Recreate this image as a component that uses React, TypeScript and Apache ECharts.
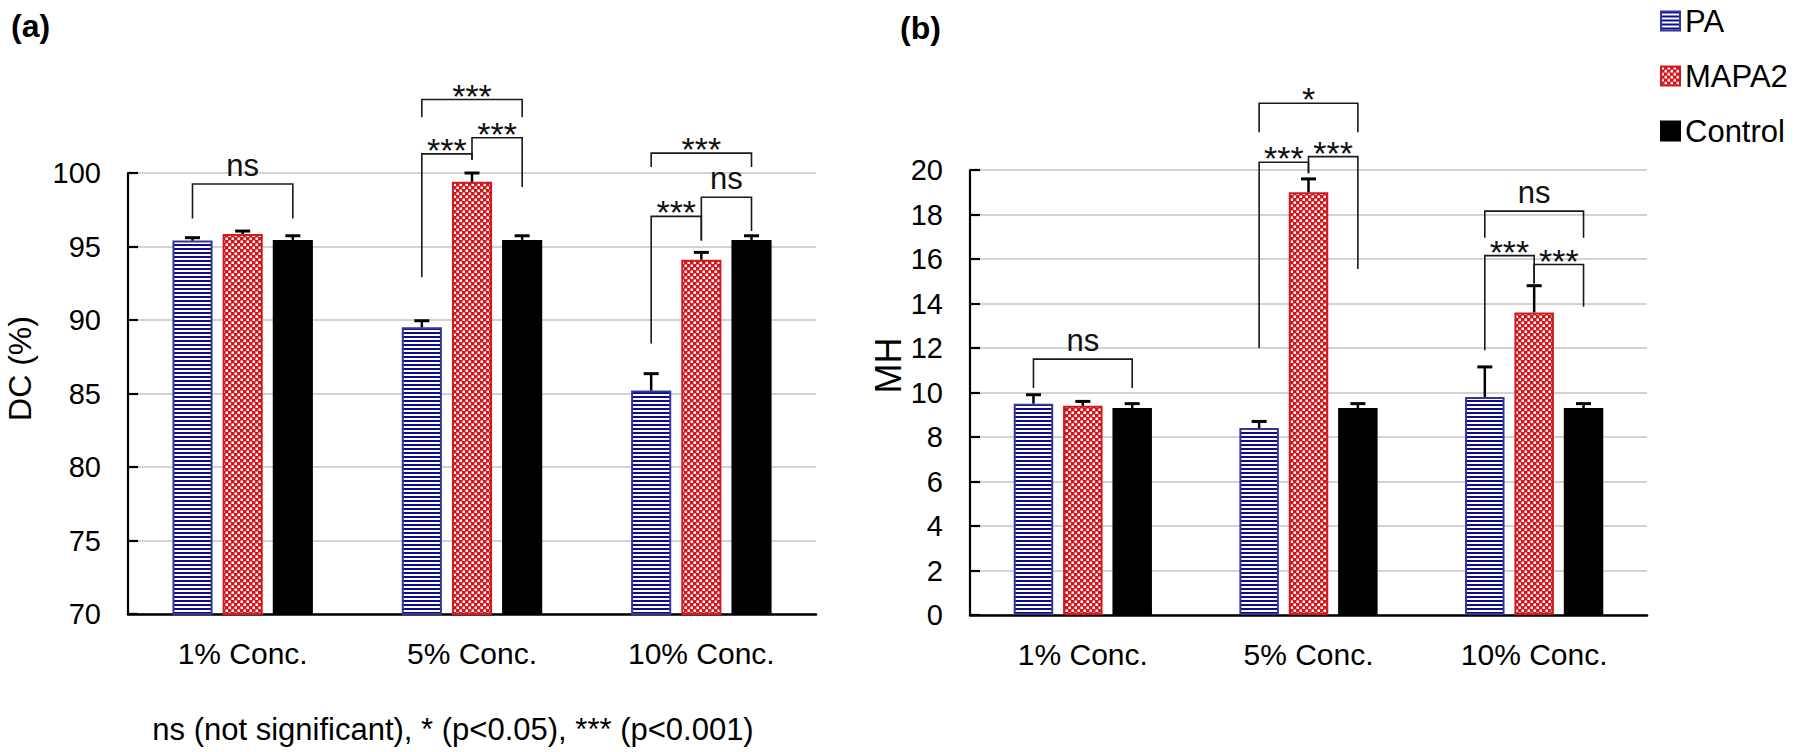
import React, { useEffect, useRef } from 'react';
import * as echarts from 'echarts';

// ---------- data ----------
const categories = ['1% Conc.', '5% Conc.', '10% Conc.'];
const seriesNames = ['PA', 'MAPA2', 'Control'];

// panel (a): DC (%)
const dcPA = [95.4, 89.5, 85.2];
const dcMAPA2 = [95.85, 99.4, 94.1];
const dcControl = [95.45, 95.45, 95.45];
const dcErrPA = [0.2, 0.45, 1.15];
const dcErrMAPA2 = [0.2, 0.6, 0.5];
const dcErrControl = [0.28, 0.28, 0.28];
const dcAxisMin = 70;
const dcAxisMax = 100;
const dcAxisStep = 5;

// panel (b): MH
const mhPA = [9.5, 8.4, 9.8];
const mhMAPA2 = [9.4, 19.0, 13.6];
const mhControl = [9.3, 9.3, 9.3];
const mhErrPA = [0.4, 0.3, 1.35];
const mhErrMAPA2 = [0.2, 0.6, 1.2];
const mhErrControl = [0.2, 0.2, 0.2];
const mhAxisMin = 0;
const mhAxisMax = 20;
const mhAxisStep = 2;

// significance brackets: [category, fromSeries, toSeries, topValue, fromLegEnd, toLegEnd]
const dcBrackets = [
  [0, 0, 2, 99.25, 96.9, 96.9],
  [1, 0, 2, 105.0, 103.8, 103.8],
  [1, 0, 1, 101.3, 92.9, 100.9],
  [1, 1, 2, 102.4, 100.9, 99.05],
  [2, 0, 2, 101.35, 100.4, 100.4],
  [2, 0, 1, 97.05, 88.4, 95.4],
  [2, 1, 2, 98.35, 95.4, 96.05],
];
const dcBracketLabels = ['ns', '***', '***', '***', '***', '***', 'ns'];

const mhBrackets = [
  [0, 0, 2, 11.5, 10.2, 10.2],
  [1, 0, 2, 23.0, 21.7, 21.7],
  [1, 0, 1, 20.35, 12.0, 19.85],
  [1, 1, 2, 20.6, 19.85, 15.55],
  [2, 0, 2, 18.15, 16.95, 16.95],
  [2, 0, 1, 16.15, 11.9, 14.9],
  [2, 1, 2, 15.75, 14.9, 13.85],
];
const mhBracketLabels = ['ns', '*', '***', '***', 'ns', '***', '***'];

const footnote = 'ns (not significant), * (p<0.05), *** (p<0.001)';

// ---------- style ----------
const FONT = 'Liberation Sans, Arial, Helvetica, sans-serif';
const BAR_W = 0.175;
const BAR_GAP = 0.25;

function makePattern(kind: 'stripe' | 'check') {
  const c = document.createElement('canvas');
  if (kind === 'stripe') {
    c.width = 4;
    c.height = 4;
    const ctx = c.getContext('2d')!;
    ctx.fillStyle = '#ffffff';
    ctx.fillRect(0, 0, 4, 4);
    ctx.fillStyle = '#0c0c8e';
    ctx.fillRect(0, 0, 4, 2);
    return { image: c, repeat: 'repeat', imageWidth: 4, imageHeight: 4 };
  }
  c.width = 12;
  c.height = 12;
  const ctx = c.getContext('2d')!;
  ctx.fillStyle = '#d2161c';
  ctx.fillRect(0, 0, 12, 12);
  ctx.fillStyle = '#ffffff';
  ctx.fillRect(1, 1, 5, 5);
  ctx.fillRect(7, 7, 5, 5);
  return { image: c, repeat: 'repeat', imageWidth: 6, imageHeight: 6 };
}

function errorRows(vals: number[][], errs: number[][]) {
  const rows: number[][] = [];
  vals.forEach((v, s) => v.forEach((val, c) => rows.push([c, s, val, errs[s][c]])));
  return rows;
}

function errorSeries(g: number, rows: number[][]) {
  return {
    type: 'custom',
    xAxisIndex: g,
    yAxisIndex: g,
    z: 5,
    silent: true,
    clip: false,
    encode: { x: 0, y: 2 },
    data: rows,
    renderItem: (params: any, api: any) => {
      const cat = api.value(0);
      const s = api.value(1);
      const v = api.value(2);
      const e = api.value(3);
      const band = api.size([1, 0])[0];
      const step = band * BAR_W * (1 + BAR_GAP);
      const p = api.coord([cat, v]);
      const t = api.coord([cat, v + e]);
      const x = p[0] + (s - 1) * step;
      return {
        type: 'group',
        children: [
          { type: 'line', shape: { x1: x, y1: p[1], x2: x, y2: t[1] }, style: { stroke: '#000', lineWidth: 2.5 } },
          { type: 'line', shape: { x1: x - 7.5, y1: t[1], x2: x + 7.5, y2: t[1] }, style: { stroke: '#000', lineWidth: 3 } },
        ],
      };
    },
  };
}

function bracketSeries(g: number, rows: number[][], labels: string[]) {
  return {
    type: 'custom',
    xAxisIndex: g,
    yAxisIndex: g,
    z: 6,
    silent: true,
    clip: false,
    encode: { x: 0, y: 3 },
    data: rows,
    renderItem: (params: any, api: any) => {
      const cat = api.value(0);
      const s1 = api.value(1);
      const s2 = api.value(2);
      const top = api.value(3);
      const b1 = api.value(4);
      const b2 = api.value(5);
      const band = api.size([1, 0])[0];
      const step = band * BAR_W * (1 + BAR_GAP);
      const c = api.coord([cat, top]);
      const x1 = c[0] + (s1 - 1) * step;
      const x2 = c[0] + (s2 - 1) * step;
      const yt = c[1];
      const y1 = api.coord([cat, b1])[1];
      const y2 = api.coord([cat, b2])[1];
      const label = labels[params.dataIndex];
      const isStar = label.indexOf('*') >= 0;
      const fs = isStar ? 34 : 31;
      const ty = isStar ? yt - 4 : yt - 18.5;
      return {
        type: 'group',
        children: [
          {
            type: 'polyline',
            shape: { points: [[x1, y1], [x1, yt], [x2, yt], [x2, y2]] },
            style: { stroke: '#1a1a1a', lineWidth: 1.6, fill: 'none' },
          },
          {
            type: 'text',
            x: (x1 + x2) / 2,
            y: ty,
            style: {
              text: label,
              fontSize: fs,
              fontFamily: FONT,
              fill: '#111',
              align: 'center',
              verticalAlign: 'middle',
              textAlign: 'center',
              textVerticalAlign: 'middle',
            },
          },
        ],
      };
    },
  };
}

function yAxisCfg(g: number, min: number, max: number, interval: number, name: string, nameSize: number, nameGap: number, namePad: number) {
  return {
    type: 'value',
    gridIndex: g,
    min,
    max,
    interval,
    name,
    nameLocation: 'middle',
    nameGap,
    nameTextStyle: { fontFamily: FONT, fontSize: nameSize, color: '#000', padding: [0, 0, 0, namePad] },
    axisLine: { show: true, lineStyle: { color: '#000', width: 2.2 } },
    axisTick: { show: true, inside: true, length: 10, lineStyle: { color: '#000', width: 2.2 } },
    axisLabel: { fontFamily: FONT, fontSize: 29, color: '#000', margin: 27 },
    splitLine: { show: true, lineStyle: { color: '#d3d3d3', width: 2 } },
  };
}

function xAxisCfg(g: number) {
  return {
    type: 'category',
    gridIndex: g,
    data: categories,
    axisTick: { show: false },
    axisLine: { show: true, onZero: false, lineStyle: { color: '#000', width: 2.5 } },
    axisLabel: { fontFamily: FONT, fontSize: 30, color: '#000', margin: 24, lineHeight: 30 },
    splitLine: { show: false },
  };
}

export default function App() {
  const ref = useRef<HTMLDivElement>(null);
  useEffect(() => {
    const chart = echarts.init(ref.current!, null, { renderer: 'svg' });
    const fills = [makePattern('stripe'), makePattern('check'), '#000000'];
    const borders = ['#35359a', '#d01a20', '#000000'];
    const dcVals = [dcPA, dcMAPA2, dcControl];
    const mhVals = [mhPA, mhMAPA2, mhControl];
    const barSeries: any[] = [];
    [dcVals, mhVals].forEach((vals, g) => {
      vals.forEach((data, i) => {
        barSeries.push({
          type: 'bar',
          name: seriesNames[i],
          xAxisIndex: g,
          yAxisIndex: g,
          data,
          barWidth: BAR_W * 100 + '%',
          barGap: BAR_GAP * 100 + '%',
          z: 2,
          itemStyle: { color: fills[i], borderColor: borders[i], borderWidth: 2 },
          emphasis: { disabled: true },
        });
      });
    });

    const option: any = {
      animation: false,
      title: [
        { text: '(a)', left: 11, top: 10, padding: 0, textStyle: { fontFamily: FONT, fontSize: 32, fontWeight: 'bold', color: '#000' } },
        { text: '(b)', left: 900, top: 12, padding: 0, textStyle: { fontFamily: FONT, fontSize: 32, fontWeight: 'bold', color: '#000' } },
      ],
      legend: {
        data: seriesNames,
        orient: 'vertical',
        left: 1660,
        top: 4,
        padding: 0,
        itemWidth: 19,
        itemHeight: 19,
        itemGap: 21,
        icon: 'rect',
        selectedMode: false,
        textStyle: { fontFamily: FONT, fontSize: 31, color: '#000', lineHeight: 34 },
      },
      grid: [
        { left: 128, top: 173, width: 688, height: 441, outerBoundsMode: 'none', containLabel: false },
        { left: 970, top: 170, width: 677, height: 445, outerBoundsMode: 'none', containLabel: false },
      ],
      xAxis: [xAxisCfg(0), xAxisCfg(1)],
      yAxis: [
        yAxisCfg(0, dcAxisMin, dcAxisMax, dcAxisStep, 'DC (%)', 32, 92, 50),
        yAxisCfg(1, mhAxisMin, mhAxisMax, mhAxisStep, 'MH', 36, 60, 54),
      ],
      graphic: [
        {
          type: 'text',
          x: 453,
          y: 729,
          style: {
            text: footnote,
            fontSize: 31,
            fontFamily: FONT,
            fill: '#000',
            align: 'center',
            verticalAlign: 'middle',
            textAlign: 'center',
            textVerticalAlign: 'middle',
          },
        },
      ],
      series: [
        ...barSeries,
        errorSeries(0, errorRows(dcVals, [dcErrPA, dcErrMAPA2, dcErrControl])),
        errorSeries(1, errorRows(mhVals, [mhErrPA, mhErrMAPA2, mhErrControl])),
        bracketSeries(0, dcBrackets, dcBracketLabels),
        bracketSeries(1, mhBrackets, mhBracketLabels),
      ],
    };
    chart.setOption(option);
    return () => chart.dispose();
  }, []);
  return <div ref={ref} style={{ position: 'fixed', left: 0, top: 0, width: 1800, height: 752, background: '#fff' }} />;
}
